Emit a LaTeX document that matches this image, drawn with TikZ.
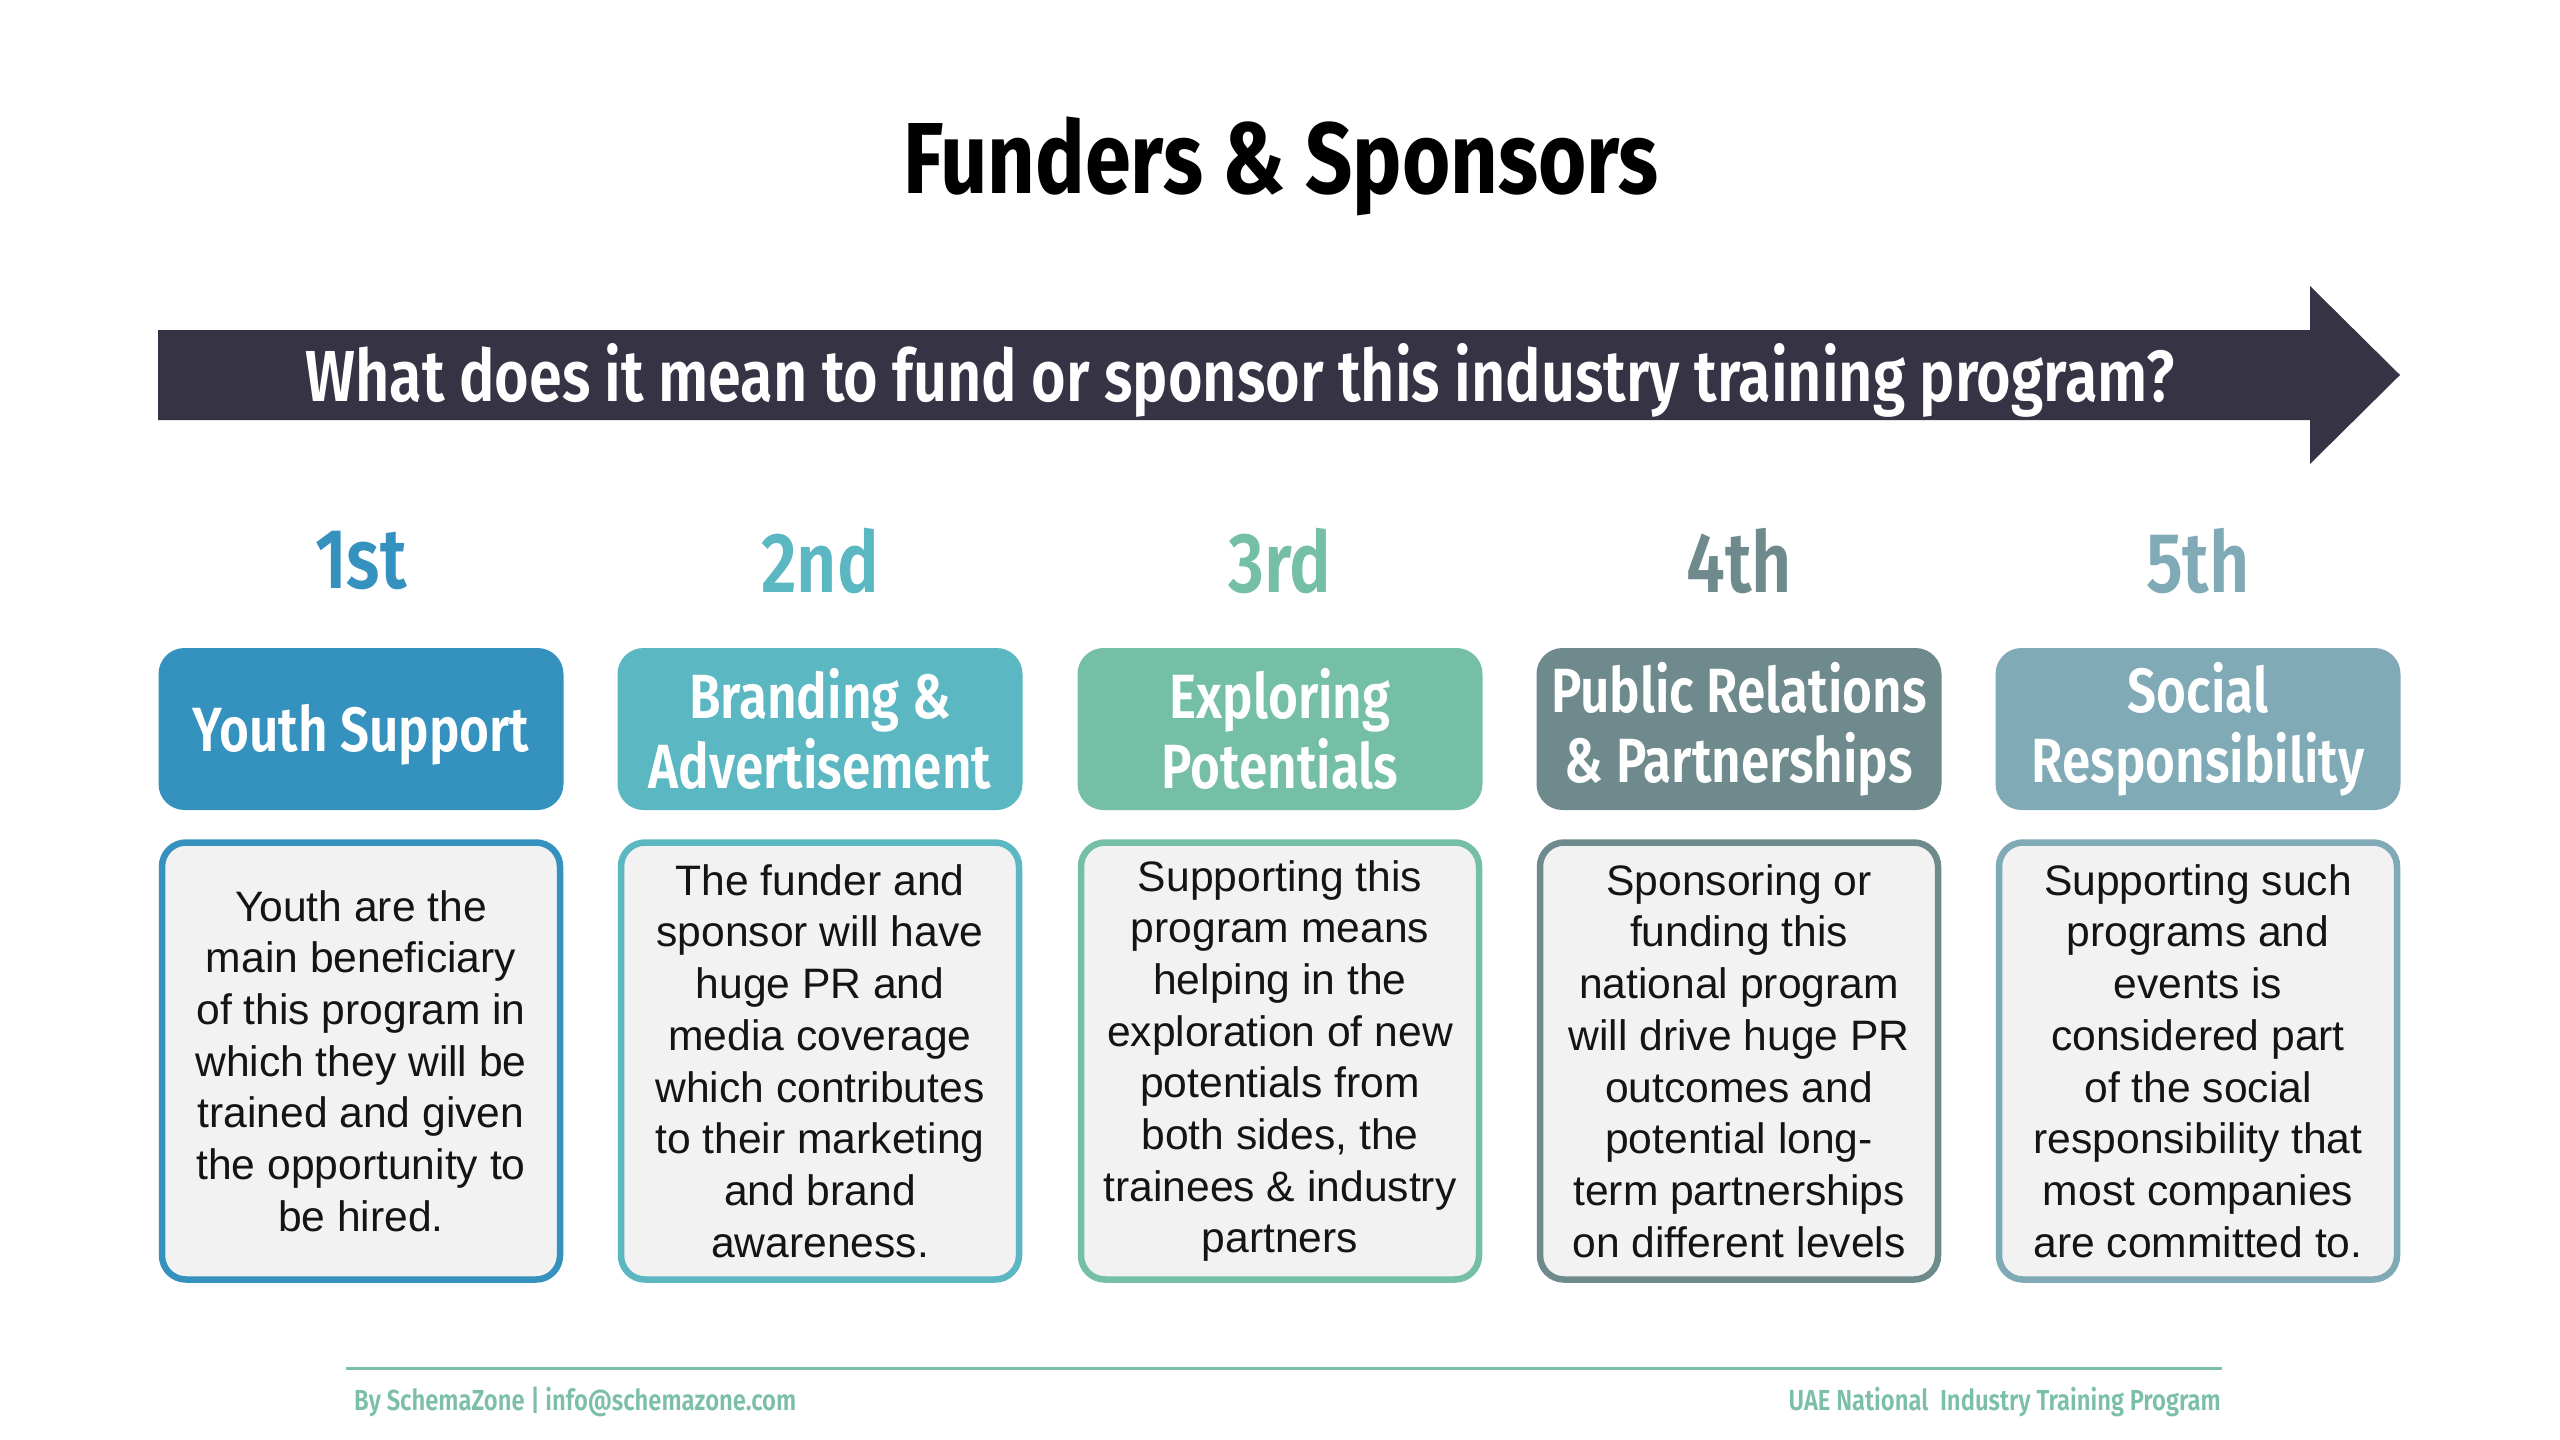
\documentclass[tikz,border=0pt]{standalone}
\usepackage{fontspec}
\setmainfont{Liberation Sans}
\newfontfamily\headfont[FakeStretch=0.82,UprightFont={* SemiBold},BoldFont={* Bold}]{Fira Sans}
\definecolor{cA}{HTML}{3592BE}
\definecolor{cB}{HTML}{5BB7C1}
\definecolor{cC}{HTML}{74BFA6}
\definecolor{cD}{HTML}{6F8A8C}
\definecolor{cE}{HTML}{80AAB6}
\definecolor{arrowc}{HTML}{363345}
\definecolor{boxgray}{HTML}{F2F2F2}
\definecolor{textc}{HTML}{141414}
\definecolor{footc}{HTML}{7BBFA9}
\tikzset{
  headbox/.style={rounded corners=26pt, minimum width=405pt, minimum height=162pt, inner sep=0pt, text=white, align=center, font=\headfont\fontsize{62.5}{70}\selectfont},
  bodybox/.style={rounded corners=24pt, line width=6.5pt, fill=boxgray, minimum width=398pt, minimum height=437pt, inner sep=0pt, align=center, text=textc, font=\fontsize{42.6}{51.7}\selectfont},
  ordlabel/.style={font=\headfont\fontsize{85}{85}\selectfont},
  foottext/.style={text=footc, inner sep=0pt, font=\headfont\fontsize{29}{29}\selectfont}
}
\begin{document}
\begin{tikzpicture}[x=1pt,y=-1pt]
\path[fill=white,use as bounding box] (0,0) rectangle (2560,1440);
% title
\node[font=\headfont\bfseries\fontsize{101}{101}\selectfont] (title) at (1281,166) {Funders \& Sponsors};
% arrow
\fill[arrowc] (158,330) -- (2310,330) -- (2310,286) -- (2400,375) -- (2310,464) -- (2310,420) -- (158,420) -- cycle;
\node[text=white, font=\headfont\fontsize{72.3}{72}\selectfont] (question) at (1240,380) {What does it mean to fund or sponsor this industry training program?};
% ordinals
\node[ordlabel, text=cA] (o1) at (361,561) {1st};
\node[ordlabel, text=cB] (o2) at (820,561) {2nd};
\node[ordlabel, text=cC] (o3) at (1280,561) {3rd};
\node[ordlabel, text=cD] (o4) at (1739,561) {4th};
\node[ordlabel, text=cE] (o5) at (2198,561) {5th};
% headers
\node[headbox, fill=cA] (h1) at (361,729) {\raisebox{-6pt}[\height][\depth]{Youth Support}};
\node[headbox, fill=cB] (h2) at (820,729) {Branding \&\\Advertisement};
\node[headbox, fill=cC] (h3) at (1280,729) {Exploring\\Potentials};
\node[headbox, fill=cD] (h4) at (1739,729) {Public Relations\\\& Partnerships};
\node[headbox, fill=cE] (h5) at (2198,729) {Social\\Responsibility};
% bodies
\node[bodybox, draw=cA] (b1) at (361,1061) {Youth are the\\main beneficiary\\of this program in\\which they will be\\trained and given\\the opportunity to\\be hired.};
\node[bodybox, draw=cB] (b2) at (820,1061) {The funder and\\sponsor will have\\huge PR and\\media coverage\\which contributes\\to their marketing\\and brand\\awareness.};
\node[bodybox, draw=cC] (b3) at (1280,1061) {Supporting this\\program means\\helping in the\\exploration of new\\potentials from\\both sides, the\\trainees \& industry\\partners};
\node[bodybox, draw=cD] (b4) at (1739,1061) {Sponsoring or\\funding this\\national program\\will drive huge PR\\outcomes and\\potential long-\\term partnerships\\on different levels};
\node[bodybox, draw=cE] (b5) at (2198,1061) {Supporting such\\programs and\\events is\\considered part\\of the social\\responsibility that\\most companies\\are committed to.};
% footer
\coordinate (fl) at (346,1368);
\coordinate (fr) at (2222,1368);
\draw[footc, line width=3pt] (fl) -- (fr);
\node[foottext, anchor=west] (fleft) at (354,1402) {By SchemaZone | info@schemazone.com};
\node[foottext, anchor=east] (fright) at (2221,1402) {UAE National\ \ Industry Training Program};
\end{tikzpicture}
\end{document}
